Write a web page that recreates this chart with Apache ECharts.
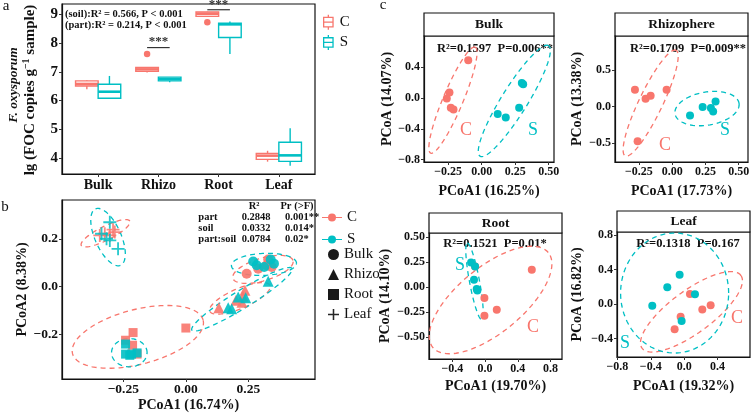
<!DOCTYPE html>
<html><head><meta charset="utf-8">
<script src="https://cdn.jsdelivr.net/npm/echarts@6/dist/echarts.min.js"></script>
<style>html,body{margin:0;padding:0;background:#fff}#c{width:755px;height:413px}</style>
</head><body><div id="c"></div>
<script>
// ---------------- Panel a data ----------------
const parts = ['Bulk', 'Rhizo', 'Root', 'Leaf'];
const yTicksA = [4, 5, 6, 7, 8, 9];
// [min, q1, median, q3, max]
const boxC = [[6.40, 6.51, 6.58, 6.69, 6.72], [6.98, 7.02, 7.09, 7.16, 7.16], [8.94, 8.94, 9.03, 9.09, 9.10], [3.87, 3.95, 4.08, 4.16, 4.25]];
const boxS = [[6.08, 6.08, 6.31, 6.57, 6.86], [6.64, 6.69, 6.75, 6.82, 6.82], [7.63, 8.20, 8.66, 8.70, 8.76], [3.73, 3.88, 4.09, 4.55, 5.04]];
const outC = [[2, 7.63], [3, 8.73]];
const sigPart = [2, 3];
const sigY = [7.85, 9.17];
const sigText = ['***', '***'];
const statA = ['(soil):R² = 0.566, P < 0.001', '(part):R² = 0.214, P < 0.001'];

// ---------------- Panel b data ----------------
const ticksBx = [-0.25, 0, 0.25];
const ticksBy = [-0.2, 0, 0.2];
const bBulkC = [[0.243, 0.054], [0.289, 0.075], [0.323, 0.089], [0.329, 0.113], [0.343, 0.082]];
const bBulkS = [[0.269, 0.105], [0.283, 0.089], [0.313, 0.082], [0.339, 0.113], [0.352, 0.096]];
const bRhizoC = [[0.132, -0.088], [0.200, -0.057], [0.224, -0.065], [0.236, -0.015], [0.228, -0.040]];
const bRhizoS = [[0.169, -0.088], [0.183, -0.092], [0.209, -0.043], [0.239, -0.046], [0.329, 0.022]];
const bRootC = [[-0.211, -0.192], [-0.241, -0.224], [-0.213, -0.245], [-0.195, -0.282], [0.000, -0.173]];
const bRootS = [[-0.241, -0.240], [-0.241, -0.282], [-0.224, -0.287], [-0.195, -0.277], [-0.217, -0.282]];
const bLeafC = [[-0.344, 0.214], [-0.324, 0.221], [-0.304, 0.214], [-0.291, 0.238], [-0.284, 0.228]];
const bLeafS = [[-0.304, 0.269], [-0.337, 0.221], [-0.317, 0.200], [-0.304, 0.193], [-0.271, 0.158]];
// ellipses: [cx, cy, axisA_x, axisA_y, axisB_x, axisB_y] (data units)
const bEllC = [[0.308, 0.072, 0.12, 0.0375, -0.013, 0.045], [0.216, -0.049, 0.12, 0.054, -0.016, 0.038], [-0.192, -0.21, 0.261, 0.070, -0.027, 0.111], [-0.321, 0.223, 0.097, 0.051, -0.0126, 0.026]];
const bEllS = [[0.312, 0.093, 0.13, 0.005, 0, 0.046], [0.224, -0.053, 0.2, 0.129, -0.019, 0.032], [-0.226, -0.276, 0.071, 0, 0, 0.059], [-0.311, 0.207, -0.05, 0.118, 0.0476, 0.022]];
const permRows = [['part', '0.2848', '0.001**'], ['soil', '0.0332', '0.014*'], ['part:soil', '0.0784', '0.02*']];

// ---------------- Panel c data ----------------
const facets = ['Bulk', 'Rhizophere', 'Root', 'Leaf'];
const cStats = ['R²=0.1597  P=0.006**', 'R²=0.1709  P=0.009**', 'R²=0.1521  P=0.01*', 'R²=0.1318  P=0.167'];
const cXnames = ['PCoA1 (16.25%)', 'PCoA1 (17.73%)', 'PCoA1 (19.70%)', 'PCoA1 (19.32%)'];
const cYnames = ['PCoA (14.07%)', 'PCoA (13.38%)', 'PCoA (14.10%)', 'PCoA (16.82%)'];
const cXticks = [[-0.25, 0, 0.25, 0.5], [-0.25, 0, 0.25, 0.5], [-0.4, 0, 0.4, 0.8], [-0.8, -0.4, 0, 0.4]];
const cYticks = [[-0.8, -0.4, 0, 0.4], [-0.5, 0, 0.5], [-0.5, -0.25, 0, 0.25, 0.5], [-0.4, 0, 0.4, 0.8]];
const cC = [
  [[-0.10, 0.486], [-0.24, 0.069], [-0.26, -0.008], [-0.23, -0.129], [-0.21, -0.150]],
  [[-0.28, 0.228], [-0.20, 0.105], [-0.162, 0.146], [-0.042, 0.228], [-0.26, -0.477]],
  [[0.571, 0.177], [-0.008, -0.106], [0.143, -0.223], [-0.008, -0.283], [-0.122, 0.21]],
  [[0.07, 0.117], [0.318, -0.015], [0.218, -0.062], [-0.042, -0.148], [-0.114, -0.291]]
];
const cS = [
  [[0.30, 0.193], [0.31, 0.177], [0.28, -0.129], [0.12, -0.210], [0.18, -0.253]],
  [[0.134, -0.123], [0.229, -0.008], [0.291, -0.022], [0.308, -0.068], [0.326, 0.068]],
  [[-0.171, 0.25], [-0.122, 0.21], [-0.135, 0.077], [-0.102, -0.016], [-0.094, -0.03]],
  [[-0.054, 0.341], [-0.202, 0.195], [-0.382, -0.02], [0.13, 0.113], [-0.03, -0.195]]
];
const cEllC = [[-0.214, -0.03, 0.166, 0.686, -0.069, 0.049], [-0.162, 0.046, 0.191, 0.723, -0.08, 0.07], [0.067, -0.126, 0.705, 0.475, -0.255, 0.252], [0.088, -0.09, 0.593, 0.422, -0.15, 0.199]];
const cEllS = [[0.244, -0.04, 0.256, 0.715, -0.083, 0.088], [0.262, -0.029, 0.241, 0.068, -0.015, 0.225], [-0.129, 0.06, -0.088, 0.383, 0.06, 0.009], [-0.114, 0.128, 0.648, 0, 0, 0.696]];

// ---------------- layout / style ----------------
const RED = '#F8766D', CYAN = '#00BFC4';
const FONT = '"Liberation Serif","Times New Roman",serif';
const chart = echarts.init(document.getElementById('c'), null, {renderer: 'canvas'});

const grids = [
  {left: 62, top: 4, width: 253, height: 170},
  {left: 62, top: 200, width: 253, height: 179},
  {left: 424, top: 36, width: 130, height: 126},
  {left: 615, top: 36, width: 133, height: 126},
  {left: 429, top: 233, width: 133, height: 126},
  {left: 617, top: 232, width: 133, height: 125}
].map(g => Object.assign({show: true, borderColor: '#111', borderWidth: 1.2, backgroundColor: 'transparent', containLabel: false}, g));

function numFmt(d) {
  return v => (Math.abs(v) < 1e-9 ? (0).toFixed(d) : (v < 0 ? '−' : '') + Math.abs(v).toFixed(d));
}
function axis(gi, min, max, ticks, fs, f, extra) {
  return Object.assign({
    type: 'value', gridIndex: gi, min, max, scale: true,
    axisLine: {show: true, onZero: false, lineStyle: {color: '#111', width: 1.2}},
    axisTick: {show: true, customValues: ticks, length: 3, lineStyle: {color: '#333'}},
    axisLabel: {customValues: ticks, formatter: f, fontFamily: FONT, fontWeight: 'bold', fontSize: fs, color: '#111', margin: 4},
    splitLine: {show: false},
    nameTextStyle: {fontFamily: FONT, fontWeight: 'bold', fontSize: 14, color: '#111'}
  }, extra || {});
}

const cXr = [[-0.43, 0.54], [-0.43, 0.57], [-0.685, 0.94], [-0.805, 0.79]];
const cYr = [[-0.83, 0.80], [-0.76, 0.964], [-0.716, 0.544], [-0.614, 0.836]];
const cXd = [2, 2, 1, 1], cYd = [1, 1, 2, 1];
const cXgap = [22, 22, 20, 22], cYgap = [30, 31, 37, 33];

const xAxes = [
  axis(0, 0.4, 4.6, [1, 2, 3, 4], 14, v => parts[Math.round(v) - 1], {}),
  axis(1, -0.495, 0.516, ticksBx, 13.5, numFmt(2), {name: 'PCoA1 (16.74%)', nameLocation: 'middle', nameGap: 16})
];
const yAxes = [
  axis(0, 3.44, 9.37, yTicksA, 15, v => String(v), {}),
  axis(1, -0.386, 0.362, ticksBy, 13.5, numFmt(1), {name: 'PCoA2 (8.38%)', nameLocation: 'middle', nameGap: 30, nameRotate: 90})
];
for (let k = 0; k < 4; k++) {
  xAxes.push(axis(k + 2, cXr[k][0], cXr[k][1], cXticks[k], 12, numFmt(cXd[k]), {name: cXnames[k], nameLocation: 'middle', nameGap: cXgap[k]}));
  yAxes.push(axis(k + 2, cYr[k][0], cYr[k][1], cYticks[k], 12, numFmt(cYd[k]), {name: cYnames[k], nameLocation: 'middle', nameGap: cYgap[k], nameRotate: 90}));
}

function boxRender(color) {
  return function (params, api) {
    const x = api.value(0);
    const mn = api.value(1), q1 = api.value(2), md = api.value(3), q3 = api.value(4), mx = api.value(5);
    const hw = api.size([0.1875, 0])[0];
    const pMax = api.coord([x, mx]), pQ3 = api.coord([x, q3]), pMd = api.coord([x, md]), pQ1 = api.coord([x, q1]), pMin = api.coord([x, mn]);
    const ls = {stroke: color, lineWidth: 1.4, fill: null};
    return {type: 'group', children: [
      {type: 'line', shape: {x1: pMax[0], y1: pMax[1], x2: pQ3[0], y2: pQ3[1]}, style: ls},
      {type: 'line', shape: {x1: pQ1[0], y1: pQ1[1], x2: pMin[0], y2: pMin[1]}, style: ls},
      {type: 'rect', shape: {x: pQ3[0] - hw, y: pQ3[1], width: 2 * hw, height: Math.max(pQ1[1] - pQ3[1], 0.5)}, style: {stroke: color, lineWidth: 1.4, fill: '#fff'}},
      {type: 'line', shape: {x1: pMd[0] - hw, y1: pMd[1], x2: pMd[0] + hw, y2: pMd[1]}, style: {stroke: color, lineWidth: 2.6}}
    ]};
  };
}
function ellRender(color) {
  return function (params, api) {
    const cx = api.value(0), cy = api.value(1), ax = api.value(2), ay = api.value(3), bx = api.value(4), by = api.value(5);
    const pts = [];
    for (let i = 0; i <= 90; i++) {
      const t = i / 90 * 2 * Math.PI;
      pts.push(api.coord([cx + ax * Math.cos(t) + bx * Math.sin(t), cy + ay * Math.cos(t) + by * Math.sin(t)]));
    }
    return {type: 'polyline', shape: {points: pts}, style: {stroke: color, fill: null, lineWidth: 1.3, lineDash: [5, 4]}, silent: true};
  };
}

const series = [];
// panel a
series.push({type: 'custom', name: 'C', xAxisIndex: 0, yAxisIndex: 0, itemStyle: {color: RED}, renderItem: boxRender(RED),
  data: boxC.map((b, i) => [i + 1 - 0.1875].concat(b)), encode: {x: 0, y: 3}, z: 3});
series.push({type: 'custom', name: 'S', xAxisIndex: 0, yAxisIndex: 0, itemStyle: {color: CYAN}, renderItem: boxRender(CYAN),
  data: boxS.map((b, i) => [i + 1 + 0.1875].concat(b)), encode: {x: 0, y: 3}, z: 3});
series.push({type: 'scatter', name: 'C', xAxisIndex: 0, yAxisIndex: 0, symbolSize: 6.5, itemStyle: {color: RED, opacity: 1},
  data: outC.map(o => [o[0] - 0.1875, o[1]]), z: 4});
series.push({type: 'custom', name: 'sig', xAxisIndex: 0, yAxisIndex: 0, data: sigPart.map((p, i) => [p, sigY[i]]), clip: false,
  renderItem: function (params, api) {
    const p = api.value(0), y = api.value(1);
    const a = api.coord([p - 0.1875, y]), b = api.coord([p + 0.1875, y]), m = api.coord([p, y]);
    return {type: 'group', children: [
      {type: 'line', shape: {x1: a[0], y1: a[1], x2: b[0], y2: b[1]}, style: {stroke: '#333', lineWidth: 1.2}},
      {type: 'text', x: m[0], y: m[1] + 1, style: {text: sigText[params.dataIndex], fontFamily: FONT, fontSize: 13, fontWeight: 'bold', fill: '#333', textAlign: 'center', textVerticalAlign: 'bottom'}}
    ]};
  }});

// panel b
const PLUS = 'path://M4.3,0 H5.7 V4.3 H10 V5.7 H5.7 V10 H4.3 V5.7 H0 V4.3 H4.3 Z';
function ptData(c, s) {
  return c.map(p => ({value: p, itemStyle: {color: RED}})).concat(s.map(p => ({value: p, itemStyle: {color: CYAN}})));
}
series.push({type: 'custom', name: 'C', xAxisIndex: 1, yAxisIndex: 1, itemStyle: {color: RED}, renderItem: ellRender(RED), data: bEllC, encode: {x: 0, y: 1}, z: 2});
series.push({type: 'custom', name: 'S', xAxisIndex: 1, yAxisIndex: 1, itemStyle: {color: CYAN}, renderItem: ellRender(CYAN), data: bEllS, encode: {x: 0, y: 1}, z: 2});
series.push({type: 'scatter', name: 'Bulk', xAxisIndex: 1, yAxisIndex: 1, symbol: 'circle', symbolSize: 10, itemStyle: {color: '#000', opacity: 0.9}, data: ptData(bBulkC, bBulkS), z: 3});
series.push({type: 'scatter', name: 'Rhizo', xAxisIndex: 1, yAxisIndex: 1, symbol: 'triangle', symbolSize: 11, itemStyle: {color: '#000', opacity: 0.9}, data: ptData(bRhizoC, bRhizoS), z: 3});
series.push({type: 'scatter', name: 'Root', xAxisIndex: 1, yAxisIndex: 1, symbol: 'rect', symbolSize: 9, itemStyle: {color: '#000', opacity: 0.9}, data: ptData(bRootC, bRootS), z: 3});
series.push({type: 'scatter', name: 'Leaf', xAxisIndex: 1, yAxisIndex: 1, symbol: PLUS, symbolSize: 13, itemStyle: {color: '#000', opacity: 0.85}, data: ptData(bLeafC, bLeafS), z: 3});

// panel c
for (let k = 0; k < 4; k++) {
  const ax = k + 2;
  series.push({type: 'custom', name: 'C', xAxisIndex: ax, yAxisIndex: ax, itemStyle: {color: RED}, renderItem: ellRender(RED), data: [cEllC[k]], encode: {x: 0, y: 1}, z: 2});
  series.push({type: 'custom', name: 'S', xAxisIndex: ax, yAxisIndex: ax, itemStyle: {color: CYAN}, renderItem: ellRender(CYAN), data: [cEllS[k]], encode: {x: 0, y: 1}, z: 2});
  series.push({type: 'scatter', name: 'C', xAxisIndex: ax, yAxisIndex: ax, symbolSize: 8, itemStyle: {color: RED, opacity: 1}, data: cC[k], z: 3});
  series.push({type: 'scatter', name: 'S', xAxisIndex: ax, yAxisIndex: ax, symbolSize: 8, itemStyle: {color: CYAN, opacity: 1}, data: cS[k], z: 3});
}

// ---------------- graphic (strips, texts) ----------------
const txt = (x, y, text, o) => ({type: 'text', x, y, silent: true,
  style: Object.assign({text, fontFamily: FONT, fontSize: 12, fontWeight: 'bold', fill: '#111', textAlign: 'left', textVerticalAlign: 'middle'}, o || {})});
const g = [];
g.push(txt(6, 6, 'a', {fontSize: 15, fontWeight: 'normal', textAlign: 'center'}));
g.push(txt(5, 207, 'b', {fontSize: 15, fontWeight: 'normal', textAlign: 'center'}));
g.push(txt(383, 5, 'c', {fontSize: 15, fontWeight: 'normal', textAlign: 'center'}));
g.push(txt(65, 14, statA[0], {fontSize: 10.5}));
g.push(txt(65, 25.5, statA[1], {fontSize: 10.5}));
g.push({type: 'text', x: 14, y: 85, rotation: Math.PI / 2, silent: true,
  style: {text: 'F. oxysporum', fontFamily: FONT, fontSize: 13.5, fontWeight: 'bold', fontStyle: 'italic', fill: '#111', textAlign: 'center', textVerticalAlign: 'middle'}});
g.push({type: 'text', x: 30, y: 90, rotation: Math.PI / 2, silent: true,
  style: {text: '{b|lg (FOC copies g}{s|−1}{b| sample)}', textAlign: 'center', textVerticalAlign: 'middle',
    rich: {b: {fontFamily: FONT, fontSize: 15, fontWeight: 'bold', fill: '#111', lineHeight: 17},
           s: {fontFamily: FONT, fontSize: 10, fontWeight: 'bold', fill: '#111', lineHeight: 17, padding: [0, 0, 7, 0]}}}});
// permanova table in b
g.push(txt(254, 206, 'R²', {fontSize: 10.5, textAlign: 'center'}));
g.push(txt(297, 206, 'Pr (>F)', {fontSize: 10.5, textAlign: 'center'}));
permRows.forEach((r, i) => {
  const y = 217.3 + i * 10.8;
  g.push(txt(198.3, y, r[0], {fontSize: 10.5}));
  g.push(txt(241.7, y, r[1], {fontSize: 10.5}));
  g.push(txt(285, y, r[2], {fontSize: 10.5}));
});
// facet strips and stats
const strips = [[424, 13, 130, 23], [615, 13, 133, 23], [429, 213, 133, 20], [617, 211, 133, 21]];
strips.forEach((s, k) => {
  g.push({type: 'rect', shape: {x: s[0], y: s[1], width: s[2], height: s[3]}, style: {fill: '#fff', stroke: '#111', lineWidth: 1.2}, silent: true});
  g.push(txt(s[0] + s[2] / 2, s[1] + s[3] / 2 + 0.5, facets[k], {fontSize: 13.5, textAlign: 'center'}));
});
const statPos = [[495, 49], [688, 49], [495, 244], [688, 244]];
statPos.forEach((p, k) => g.push(txt(p[0], p[1], cStats[k], {fontSize: 12.5, textAlign: 'center'})));
// group labels in c
const grpLab = [[[466, 130], [533, 130]], [[665, 145], [725, 130]], [[533, 327], [460, 265]], [[737, 318], [625, 343]]];
grpLab.forEach(p => {
  g.push(txt(p[0][0], p[0][1], 'C', {fontSize: 18, fontWeight: 'normal', fill: RED, textAlign: 'center'}));
  g.push(txt(p[1][0], p[1][1], 'S', {fontSize: 18, fontWeight: 'normal', fill: CYAN, textAlign: 'center'}));
});

const BOXICON = 'path://M6,0 V3 M1,3 H11 V13 H1 Z M1,8 H11 M6,13 V16';
const PTICON = 'path://M0,4.4 L20,4.4 L20,5.6 L0,5.6 Z M6,5 a4,4 0 1,1 8,0 a4,4 0 1,1 -8,0 Z';
const legTxt = {fontFamily: FONT, fontSize: 15, color: '#111'};

chart.setOption({
  animation: false,
  backgroundColor: '#fff',
  grid: grids,
  xAxis: xAxes,
  yAxis: yAxes,
  legend: [
    {left: 318, top: 9, orient: 'vertical', itemWidth: 13, itemHeight: 15, itemGap: 4, selectedMode: false, textStyle: legTxt,
      data: [{name: 'C', icon: BOXICON, itemStyle: {color: '#fff', borderColor: RED, borderWidth: 1.3}},
             {name: 'S', icon: BOXICON, itemStyle: {color: '#fff', borderColor: CYAN, borderWidth: 1.3}}]},
    {left: 317, top: 205, orient: 'vertical', itemWidth: 20, itemHeight: 9, itemGap: 7, selectedMode: false, textStyle: legTxt,
      data: [{name: 'C', icon: PTICON, itemStyle: {color: RED}}, {name: 'S', icon: PTICON, itemStyle: {color: CYAN}}]},
    {left: 323, top: 242, orient: 'vertical', itemWidth: 11, itemHeight: 11, itemGap: 5, selectedMode: false, textStyle: legTxt,
      data: [{name: 'Bulk', icon: 'circle', itemStyle: {color: '#000'}}, {name: 'Rhizo', icon: 'triangle', itemStyle: {color: '#000'}},
             {name: 'Root', icon: 'rect', itemStyle: {color: '#000'}}, {name: 'Leaf', icon: PLUS, itemStyle: {color: '#000'}}]}
  ],
  graphic: g,
  series: series
});
</script></body></html>
